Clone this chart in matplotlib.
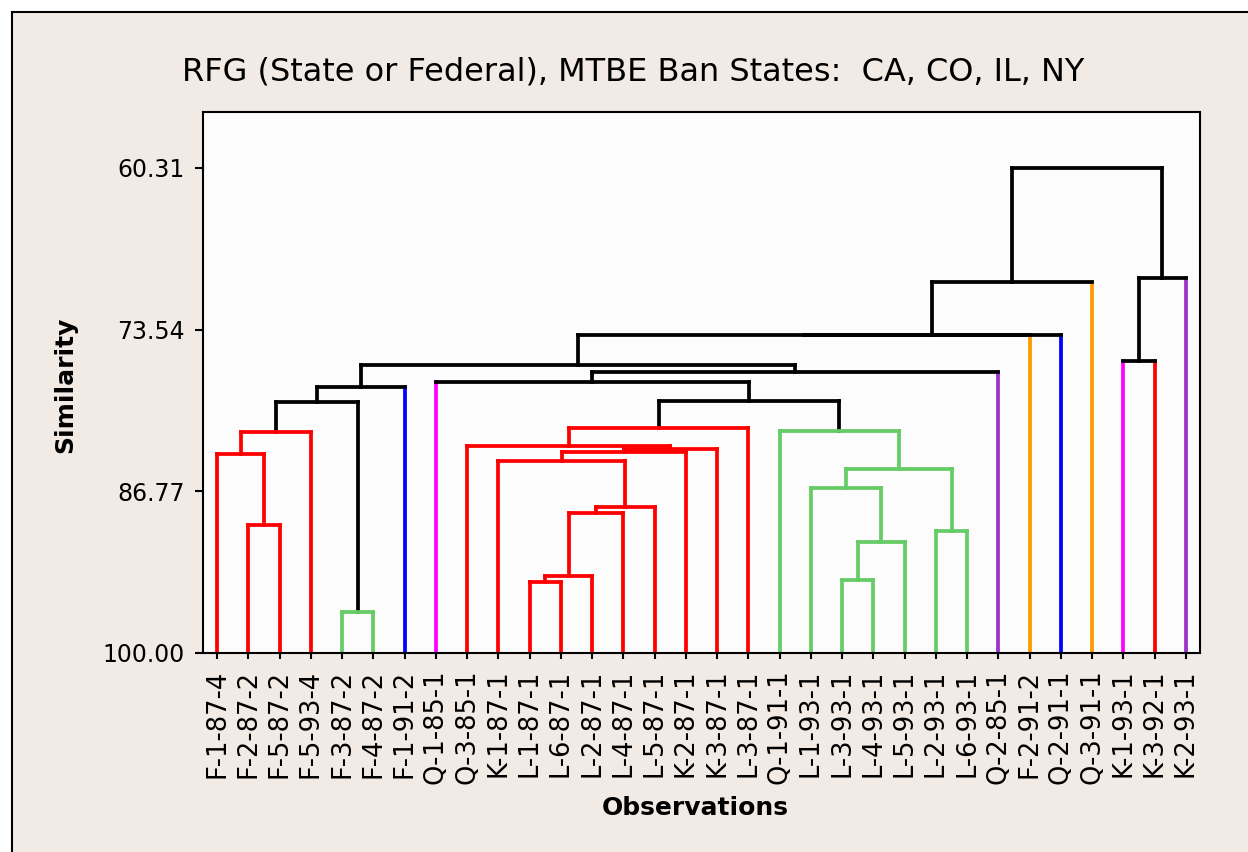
import matplotlib.pyplot as plt
from matplotlib.patches import Rectangle
from matplotlib.lines import Line2D

labels = ["F-1-87-4", "F-2-87-2", "F-5-87-2", "F-5-93-4", "F-3-87-2", "F-4-87-2",
          "F-1-91-2", "Q-1-85-1", "Q-3-85-1", "K-1-87-1", "L-1-87-1", "L-6-87-1",
          "L-2-87-1", "L-4-87-1", "L-5-87-1", "K-2-87-1", "K-3-87-1", "L-3-87-1",
          "Q-1-91-1", "L-1-93-1", "L-3-93-1", "L-4-93-1", "L-5-93-1", "L-2-93-1",
          "L-6-93-1", "Q-2-85-1", "F-2-91-2", "Q-2-91-1", "Q-3-91-1", "K-1-93-1",
          "K-3-92-1", "K-2-93-1"]

leaf_colors = ["#FF0000"] * 4 + ["#66CC66"] * 2 + ["#0000FF", "#FF00FF"] + \
              ["#FF0000"] * 10 + ["#66CC66"] * 7 + \
              ["#9933CC", "#FF9900", "#0000FF", "#FF9900", "#FF00FF", "#FF0000", "#9933CC"]

# linkage: nodes after the leaves are numbered 32, 33, ...
merge_a = [4, 10, 20, 33, 34, 23, 1, 35, 39, 19, 41, 9, 0, 43, 45, 8,
           44, 18, 47, 48, 50, 51, 7, 54, 53, 29, 56, 58, 59, 57, 60]
merge_b = [5, 11, 21, 12, 22, 24, 2, 13, 14, 36, 37, 40, 38, 15, 16, 46,
           3, 42, 17, 32, 49, 6, 52, 25, 55, 30, 26, 27, 28, 31, 61]
merge_sim = [96.64, 94.19, 94.03, 93.70, 90.92, 90.02, 89.53, 88.54, 88.05, 86.50,
             84.94, 84.29, 83.72, 83.55, 83.31, 83.06, 81.92, 81.83, 81.59, 79.46,
             79.40, 78.23, 77.82, 77.00, 76.43, 76.11, 73.98, 73.95, 69.64, 69.31,
             60.31]

ytick_vals = [60.31, 73.54, 86.77, 100.00]

W, H = 1248, 852
beige = "#F2EAE5"

fig = plt.figure(figsize=(W / 100, H / 100), dpi=100, facecolor="white")
fig.patches.append(Rectangle((11.5 / W, 0), 1, 1 - 12.5 / H, transform=fig.transFigure,
                             facecolor=beige, edgecolor="none", zorder=-10))
fig.lines.append(Line2D([11.5 / W, 11.5 / W], [0, 1 - 12 / H], transform=fig.transFigure,
                        color="black", lw=1.5, zorder=-5))
fig.lines.append(Line2D([11.5 / W, 1], [1 - 12 / H, 1 - 12 / H], transform=fig.transFigure,
                        color="black", lw=1.5, zorder=-5))

ax = fig.add_axes([203 / W, 1 - 653 / H, (1200 - 203) / W, (653 - 112) / H])
ax.set_facecolor("#FCFCFC")

n = len(labels)
xpos = list(range(n))
height = [100.0] * n
cols = [{c} for c in leaf_colors]

for a, b, s in zip(merge_a, merge_b, merge_sim):
    xpos.append((xpos[a] + xpos[b]) / 2)
    height.append(s)
    cols.append(cols[a] | cols[b])
    c = list(cols[-1])[0] if len(cols[-1]) == 1 else "black"
    lw = 2.7
    for ch in (a, b):
        vc = leaf_colors[ch] if ch < n else c
        ax.plot([xpos[ch], xpos[ch]], [height[ch], s], color=vc, lw=lw,
                solid_capstyle="projecting", zorder=2)
    ax.plot([xpos[a], xpos[b]], [s, s], color=c, lw=lw,
            solid_capstyle="projecting", zorder=3)

ax.set_xlim(-0.45, n - 1 + 0.45)
ax.set_ylim(100, 55.73)
ax.set_yticks(ytick_vals)
ax.set_yticklabels(["%.2f" % v for v in ytick_vals])
ax.set_xticks(range(n))
ax.set_xticklabels(labels, rotation=90)
ax.tick_params(axis="y", length=6, width=1.5, pad=7, labelsize=17)
ax.tick_params(axis="x", length=4.5, width=1.5, pad=7.5, labelsize=18.5)
for sp in ax.spines.values():
    sp.set_linewidth(1.5)

fig.text(633 / W, 1 - 72 / H, "RFG (State or Federal), MTBE Ban States:  CA, CO, IL, NY",
         ha="center", va="center", fontsize=23)
fig.text(65 / W, 1 - 385 / H, "Similarity", rotation=90, ha="center", va="center",
         fontsize=18, fontweight="bold")
fig.text(695 / W, 1 - 808 / H, "Observations", ha="center", va="center",
         fontsize=18, fontweight="bold")

fig.savefig("out.png", dpi=100, facecolor=fig.get_facecolor())
